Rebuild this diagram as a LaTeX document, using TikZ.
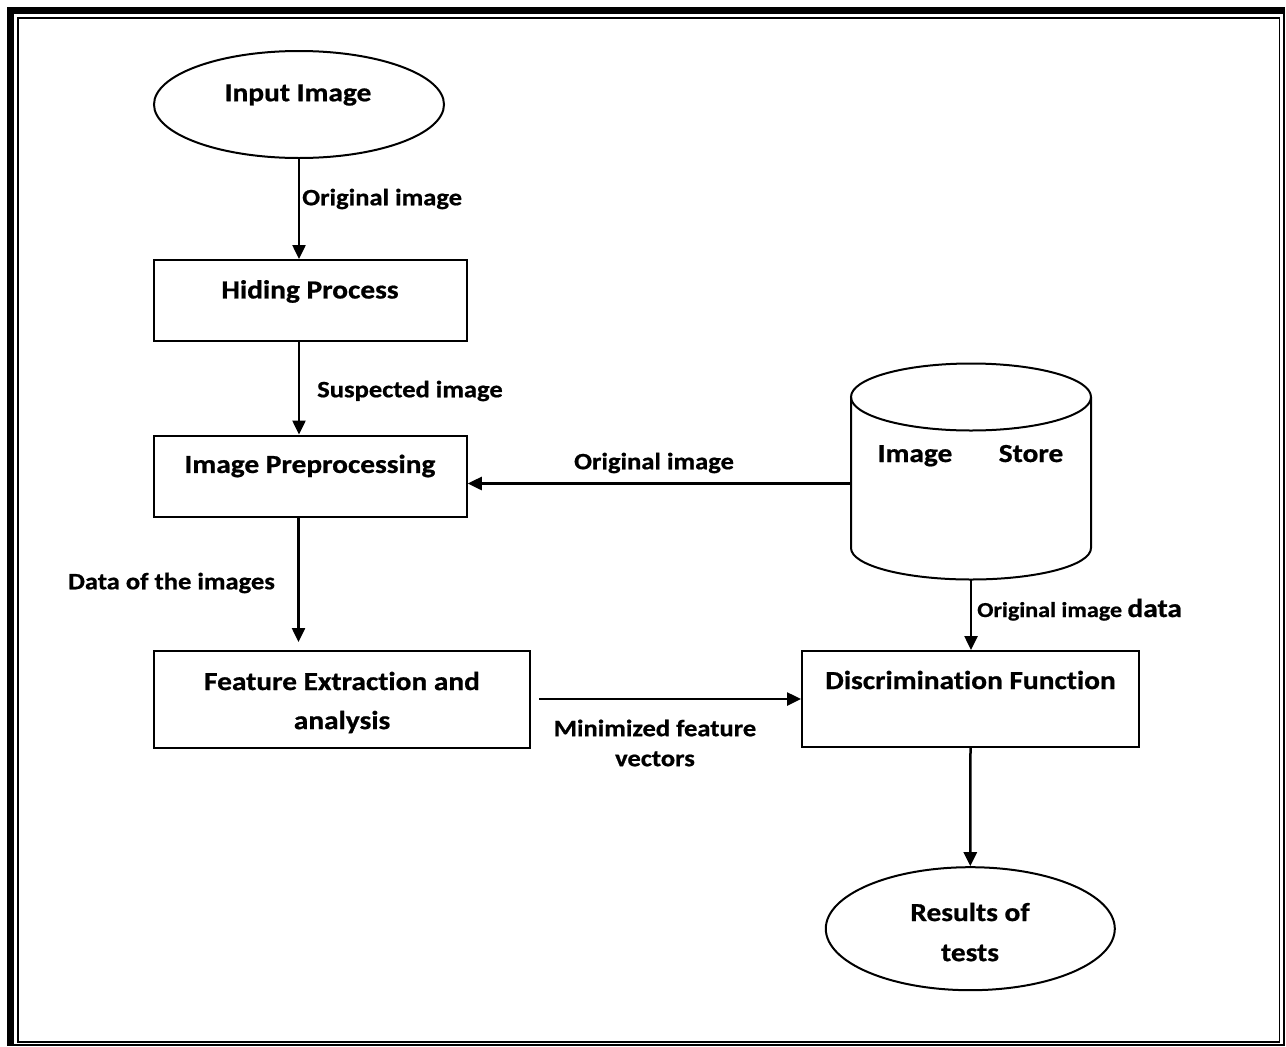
\documentclass[tikz,border=0pt]{standalone}
\usepackage{fontspec}
\setmainfont[FakeStretch=1.13, FakeBold=0.8, Ligatures=NoCommon]{Carlito}
\usetikzlibrary{shapes.geometric,arrows.meta}
\newcommand{\boxfont}{\fontsize{26}{31}\selectfont\bfseries}
\newcommand{\lblfont}{\fontsize{23.5}{30}\selectfont\bfseries}
\newcommand{\smlblfont}{\fontsize{21.3}{27}\selectfont\bfseries}
\tikzset{
  frame/.style={draw, line width=2pt, inner sep=0pt},
  stepbox/.style={frame, rectangle},
  oval/.style={frame, ellipse},
  txt/.style={inner sep=0pt, font=\boxfont, align=center},
  lbl/.style={inner sep=0pt, font=\lblfont, align=center},
  flow/.style={line width=2.5pt, -{Triangle[length=14pt,width=13pt]}},
}
\begin{document}
\begin{tikzpicture}[x=1pt,y=-1pt]
\useasboundingbox (0,0) rectangle (1286,1047);
% page border: heavy outer rule, thin inner rule
\fill (7,7) rectangle (1285,14);
\fill (7,7) rectangle (14,1046);
\draw[line width=2pt] (1284,14) -- (1284,1045) -- (14,1045);
\draw[line width=1.5pt] (18,18) rectangle (1279.5,1042);

% shapes
\node[oval, minimum width=290pt, minimum height=107pt] (inimg) at (299,104.5) {};
\node[txt] (inimgT) at (298,95) {Input Image};

\node[stepbox, minimum width=312.5pt, minimum height=81pt] (hide) at (310.5,300.5) {};
\node[txt] (hideT) at (310,291.5) {Hiding Process};

\node[stepbox, minimum width=312.5pt, minimum height=81pt] (prep) at (310.5,476) {};
\node[txt] (prepT) at (310,466) {Image Preprocessing};

\node[stepbox, minimum width=376pt, minimum height=97pt] (feat) at (342,699) {};
\node[txt] (featT1) at (342,681) {Feature Extraction and};
\node[txt] (featT2) at (342,722) {analysis};

\node[stepbox, minimum width=337pt, minimum height=96pt] (disc) at (970.5,699) {};
\node[txt] (discT) at (970.5,680) {Discrimination Function};

\node[oval, minimum width=289pt, minimum height=123pt] (res) at (970.3,928.7) {};
\node[txt] (resT1) at (970,912) {Results of};
\node[txt] (resT2) at (970,953) {tests};

% image store cylinder
\coordinate (stTL) at (851,397);
\coordinate (stTR) at (1091,397);
\coordinate (stBL) at (851,548);
\draw[line width=2pt] (971,397) ellipse [x radius=120, y radius=33.5];
\draw[line width=2pt] (stTL) -- (stBL) arc[start angle=180, end angle=0, x radius=120, y radius=31.5] -- (stTR);
\coordinate (stBot) at (971,579.5);
\coordinate (stLeft) at (851,483.5);
\node[txt, anchor=base] (stT1) at (915,462) {Image};
\node[txt, anchor=base] (stT2) at (1031,462) {Store};

% connectors
\draw[flow] (inimg.south) -- (inimg.south |- hide.north);
\node[lbl, anchor=west] (l1) at (302,199) {Original image};

\draw[flow] (hide.south) ++(-11.5,0) coordinate (hs) -- (hs |- prep.north);
\node[lbl, anchor=west] (l2) at (317,391) {Suspected image};

\draw[flow] (prep.south) ++(-12,0) coordinate (ps) -- (298.5,642) coordinate (pe);
\node[lbl, anchor=west] (l3) at (68,583) {Data of the images};

\draw[flow] (stLeft) -- (stLeft -| prep.east);
\node[lbl] (l4) at (654,463) {Original image};

\draw[flow] (stBot) -- (stBot |- disc.north);
\node[lbl, anchor=base west, font=\smlblfont] (l5) at (977,617) {Original image {\boxfont data}};

\draw[flow] (feat.east) ++(8,0) coordinate (fe) -- (disc.west);
\node[lbl] (l6) at (655,743) {Minimized feature\\vectors};

\draw[flow] (disc.south) -- (res.north);
\end{tikzpicture}
\end{document}
